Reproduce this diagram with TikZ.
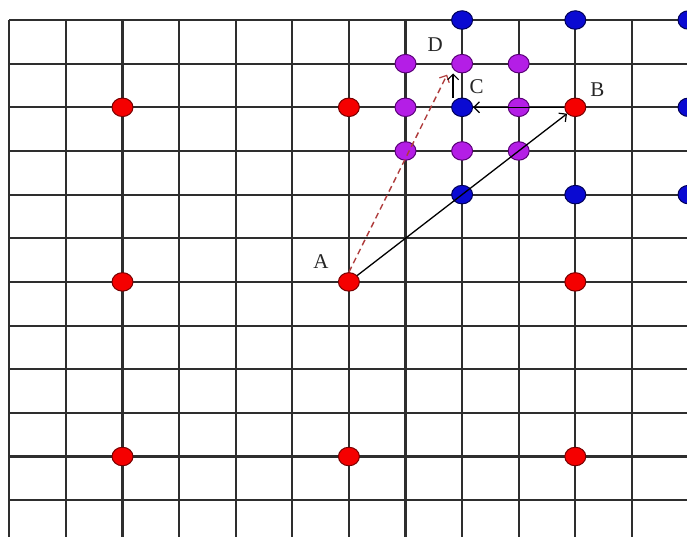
\documentclass[tikz,border=0pt]{standalone}
\usepackage{fontspec}
\setmainfont{Liberation Serif}
\usetikzlibrary{shapes.geometric,arrows.meta,calc}
\definecolor{dotred}{RGB}{245,0,0}
\definecolor{dotredb}{RGB}{120,0,0}
\definecolor{dotblue}{RGB}{10,10,210}
\definecolor{dotblueb}{RGB}{0,0,90}
\definecolor{dotpurple}{RGB}{180,30,230}
\definecolor{dotpurpleb}{RGB}{90,0,120}
\definecolor{dashred}{RGB}{175,60,60}
\tikzset{
  gridline/.style={line width=2.1pt, black!82},
  dotbase/.style={ellipse, inner sep=0pt, minimum width=21pt, minimum height=18.5pt, line width=1pt},
  reddot/.style={dotbase, fill=dotred, draw=dotredb},
  bluedot/.style={dotbase, fill=dotblue, draw=dotblueb},
  purpledot/.style={dotbase, fill=dotpurple, draw=dotpurpleb},
  arr/.style={line width=1.3pt, black, -{Straight Barb[length=5.5pt,width=11pt,line width=1.2pt]}},
  dasharr/.style={line width=1.4pt, dashred, dash pattern=on 6pt off 4pt, -{Straight Barb[length=5.5pt,width=11pt,line width=1.2pt]}},
  lbl/.style={inner sep=0pt, font=\fontsize{21}{23}\selectfont, text=black!85}
}
\begin{document}
\begin{tikzpicture}[x=56.6pt,y=-43.65pt]
\useasboundingbox (-9.3pt,20pt) rectangle (677.7pt,-516pt);
\clip (-9.3pt,20pt) rectangle (677.7pt,-516pt);
\fill[white] (-9.3pt,20pt) rectangle (677.7pt,-516pt);
% grid
\foreach \i in {0,...,12} \draw[gridline] (\i,0) -- (\i,11.9);
\foreach \j in {0,...,11} \draw[gridline] (0,\j) -- (12.1,\j);
% red dots
\node[reddot] (r1) at (2,2) {};
\node[reddot] (A0) at (6,2) {};
\node[reddot] (B) at (10,2) {};
\node[reddot] (r4) at (2,6) {};
\node[reddot] (A) at (6,6) {};
\node[reddot] (r6) at (10,6) {};
\node[reddot] (r7) at (2,10) {};
\node[reddot] (r8) at (6,10) {};
\node[reddot] (r9) at (10,10) {};
% blue dots
\node[bluedot] (b1) at (8,0) {};
\node[bluedot] (b2) at (10,0) {};
\node[bluedot] (b3) at (12,0) {};
\node[bluedot] (C) at (8,2) {};
\node[bluedot] (b5) at (12,2) {};
\node[bluedot] (b6) at (8,4) {};
\node[bluedot] (b7) at (10,4) {};
\node[bluedot] (b8) at (12,4) {};
% purple dots
\node[purpledot] (p1) at (7,1) {};
\node[purpledot] (D) at (8,1) {};
\node[purpledot] (p3) at (9,1) {};
\node[purpledot] (p4) at (7,2) {};
\node[purpledot] (p5) at (9,2) {};
\node[purpledot] (p6) at (7,3) {};
\node[purpledot] (p7) at (8,3) {};
\node[purpledot] (p8) at (9,3) {};
% arrows
\coordinate (Dt) at ($(D)+(-15pt,-11pt)$);
\draw[dasharr] (A.north) -- (Dt);
\draw[arr] (A) -- (B);
\draw[arr] (B) -- (C);
\draw[arr] ([xshift=-9pt]C.north) -- ([xshift=-9pt]D.south);
% labels
\node[lbl] (lA) at ($(A)+(-28pt,20pt)$) {A};
\node[lbl] (lB) at ($(B)+(22pt,18pt)$) {B};
\node[lbl] (lC) at ($(C)+(14.5pt,21pt)$) {C};
\node[lbl] (lD) at ($(D)+(-27pt,19pt)$) {D};
\end{tikzpicture}
\end{document}
